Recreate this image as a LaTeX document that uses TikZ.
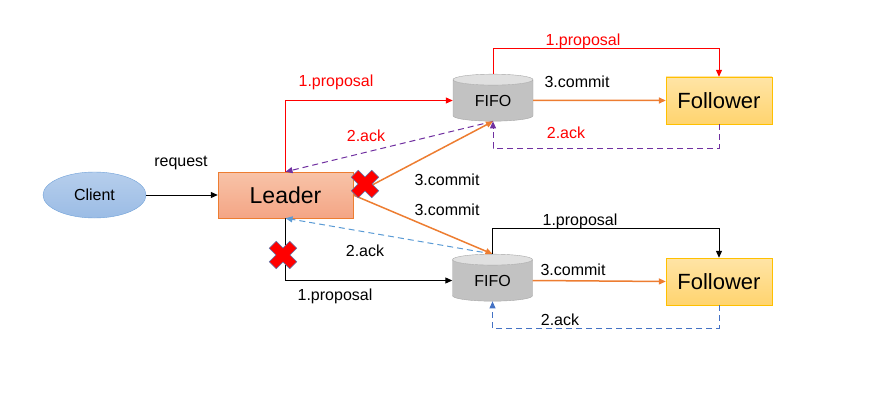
\documentclass[tikz,border=0pt]{standalone}
\usepackage{fontspec}
\setmainfont{Liberation Sans}
\usetikzlibrary{arrows.meta, shapes.geometric, calc}
\definecolor{zkRed}{HTML}{FF0000}
\definecolor{zkOrange}{HTML}{ED7D31}
\definecolor{zkPurple}{HTML}{7030A0}
\definecolor{zkBlue}{HTML}{5B9BD5}
\definecolor{zkDarkBlue}{HTML}{4472C4}
\definecolor{zkEdge}{HTML}{5A7FB5}
\definecolor{cliTop}{HTML}{B6CEEC}
\definecolor{cliBot}{HTML}{9BBCE5}
\definecolor{cliLine}{HTML}{6FA0D8}
\definecolor{ldrTop}{HTML}{F8C3A8}
\definecolor{ldrBot}{HTML}{F4A585}
\definecolor{folTop}{HTML}{FFE4A6}
\definecolor{folBot}{HTML}{FFD46F}
\definecolor{folLine}{HTML}{FFC000}
\tikzset{
  clientnode/.style = {ellipse, draw=cliLine, top color=cliTop, bottom color=cliBot,
                       minimum width=103pt, minimum height=46pt, inner sep=0pt,
                       font=\fontsize{16}{18}\selectfont},
  leadernode/.style = {rectangle, draw=zkOrange, top color=ldrTop, bottom color=ldrBot,
                       minimum width=135pt, minimum height=46pt, inner sep=0pt,
                       font=\fontsize{23}{26}\selectfont},
  follnode/.style   = {rectangle, draw=folLine, top color=folTop, bottom color=folBot,
                       minimum width=106pt, minimum height=47pt, inner sep=0pt,
                       font=\fontsize{22}{25}\selectfont},
  fifonode/.style   = {cylinder, shape border rotate=90, aspect=0.3, draw=black!35,
                       cylinder uses custom fill, cylinder body fill=black!24,
                       cylinder end fill=black!12, minimum width=80pt,
                       minimum height=47pt, inner sep=0pt,
                       font=\fontsize{16}{18}\selectfont},
  msg/.style        = {-{Triangle[length=7pt,width=6pt]}, line width=1pt},
  commitline/.style = {msg, zkOrange, line width=1.5pt},
  ackline/.style    = {msg, dash pattern=on 6pt off 4pt},
  lbl/.style        = {anchor=base, font=\fontsize{16}{18}\selectfont},
  redcross/.pic     = {
    \filldraw[fill=zkRed, draw=zkEdge, line width=0.6pt, rotate=45]
      (5,14.5) -- (5,5) -- (14.5,5) -- (14.5,-5) -- (5,-5) -- (5,-14.5)
      -- (-5,-14.5) -- (-5,-5) -- (-14.5,-5) -- (-14.5,5) -- (-5,5)
      -- (-5,14.5) -- cycle;
  },
}

\begin{document}
\begin{tikzpicture}[x=1pt, y=-1pt]
  \useasboundingbox (0,0) rectangle (884,404);

  \node[clientnode] (client) at (94.5,195)   {Client};
  \node[leadernode] (leader) at (285.5,195)  {Leader};
  \node[fifonode]   (fifoA)  at (493,100.5)  {FIFO};
  \node[follnode]   (folA)   at (719,100.5)  {Follower};
  \node[fifonode]   (fifoB)  at (492.5,280.5) {FIFO};
  \node[follnode]   (folB)   at (719,281.5)  {Follower};

  % client to leader
  \draw[msg] (client) -- (leader);

  % leader and the upper follower
  \draw[msg, zkRed] (leader.north) |- (fifoA.west);
  \draw[ackline, zkPurple] (fifoA.south) -- (leader.north);
  \draw[commitline] (leader.east) -- (fifoA.south);
  \draw[msg, zkRed] (fifoA.north) -- ++(0,-25) -| (folA.north);
  \draw[commitline] (fifoA.east) -- (folA.west);
  \draw[ackline, zkPurple] (folA.south) -- ++(0,24) -| (fifoA.south);

  % leader and the lower follower
  \draw[msg] (leader.south) |- (fifoB.west);
  \draw[ackline, zkBlue] (fifoB.north) -- (leader.south);
  \draw[commitline] (leader.east) -- (fifoB.north);
  \draw[msg] (fifoB.north) -- ++(0,-25) -| (folB.north);
  \draw[commitline] (fifoB.east) -- (folB.west);
  \draw[ackline, zkDarkBlue] (folB.south) -- ++(0,23) -| (fifoB.south);

  \pic at (365,184) {redcross};
  \pic at (283,255) {redcross};

  \node[lbl]        (req)     at (181,166) {request};
  \node[lbl, zkRed] (propLA)  at (336,87)  {1.proposal};
  \node[lbl, zkRed] (ackLA)   at (366,141) {2.ack};
  \node[lbl]        (comLA)   at (447,185) {3.commit};
  \node[lbl]        (comLB)   at (447,215) {3.commit};
  \node[lbl]        (ackLB)   at (365,256) {2.ack};
  \node[lbl]        (propLB)  at (335,300) {1.proposal};
  \node[lbl, zkRed] (propFA)  at (583,46)  {1.proposal};
  \node[lbl]        (comFA)   at (577,88)  {3.commit};
  \node[lbl, zkRed] (ackFA)   at (566,138) {2.ack};
  \node[lbl]        (propFB)  at (580,225) {1.proposal};
  \node[lbl]        (comFB)   at (573,275) {3.commit};
  \node[lbl]        (ackFB)   at (560,325) {2.ack};
\end{tikzpicture}
\end{document}
